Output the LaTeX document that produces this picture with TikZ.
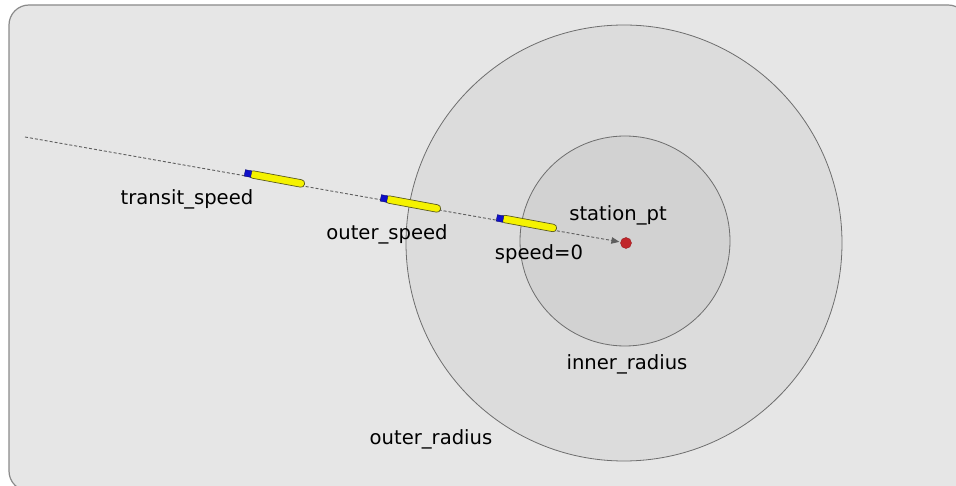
\documentclass[tikz,border=0pt]{standalone}
\usepackage{fontspec}
\setmainfont{DejaVu Sans}
\usetikzlibrary{arrows.meta}
\definecolor{bgfill}{HTML}{E6E6E6}
\definecolor{bgline}{HTML}{8A8A8A}
\definecolor{outerfill}{HTML}{DCDCDC}
\definecolor{innerfill}{HTML}{D2D2D2}
\definecolor{ringline}{HTML}{6E6E6E}
\definecolor{capyellow}{HTML}{F5F200}
\definecolor{capline}{HTML}{5A5A20}
\definecolor{capblue}{HTML}{1010C8}
\definecolor{dotred}{HTML}{C0262A}
\begin{document}
\begin{tikzpicture}[x=1pt,y=-1pt,
  lbl/.style={font=\fontsize{19.6}{21}\selectfont, text=black, inner sep=0pt, anchor=base},
  capsule/.style={draw=capline, fill=capyellow, line width=0.7pt, rounded corners=3.5pt,
     minimum width=56pt, minimum height=7.5pt, inner sep=0pt, rotate=-10.5},
  sq/.style={draw=capblue!60!black, fill=capblue, line width=0.4pt, minimum size=6.5pt, inner sep=0pt, rotate=-10.5},
  ring/.style={draw=ringline, line width=0.8pt}]
\useasboundingbox (0,0) rectangle (956,486);
\draw[draw=bgline, fill=bgfill, line width=1.2pt, rounded corners=20pt] (9,5) rectangle (968,491);
\node[ring, fill=outerfill, circle, minimum size=436pt, inner sep=0pt] (outer) at (624,243) {};
\node[ring, fill=innerfill, circle, minimum size=210pt, inner sep=0pt] (inner) at (625,241) {};
\node[circle, fill=dotred, draw=dotred!80!black, line width=0.4pt, minimum size=11pt, inner sep=0pt] (station) at (626,243) {};
\coordinate (start) at (25,137);
\draw[ringline!85!black, line width=0.9pt, dash pattern=on 3pt off 2pt, -{Triangle[length=8pt,width=6.5pt]}, shorten >=1pt] (start) -- (station);
\node[capsule] (cap1) at (277,179) {};
\node[sq] (sq1) at (248,173.5) {};
\node[capsule] (cap2) at (413,204) {};
\node[sq] (sq2) at (384,198.5) {};
\node[capsule] (cap3) at (529,223.5) {};
\node[sq] (sq3) at (500,218.5) {};
\node[lbl] (t1) at (187,205) {transit\_speed};
\node[lbl] (t2) at (387,240) {outer\_speed};
\node[lbl] (t3) at (539,260) {speed=0};
\node[lbl] (t4) at (618,221) {station\_pt};
\node[lbl] (t5) at (627,370) {inner\_radius};
\node[lbl] (t6) at (431,444) {outer\_radius};
\end{tikzpicture}
\end{document}
